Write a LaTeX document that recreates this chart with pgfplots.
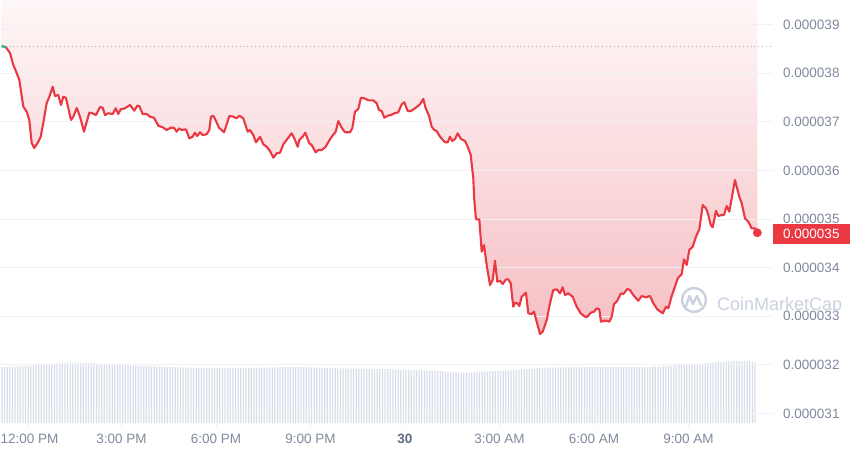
\documentclass[border=0pt]{standalone}
\usepackage{fontspec}
\setmainfont{Liberation Sans}
\usepackage{pgfplots}
\pgfplotsset{compat=1.18}
\usepackage{pgfplotstable}
\definecolor{cmcred}{HTML}{EA3943}
\definecolor{cmcgreen}{HTML}{16C784}
\definecolor{labelc}{HTML}{808A9D}
\definecolor{labd}{HTML}{5F6B80}
\definecolor{gridc}{HTML}{EFF1F4}
\definecolor{volc}{HTML}{D8DEE9}
\definecolor{filltop}{HTML}{FEF7F7}
\definecolor{fillbot}{HTML}{F6BFC4}
\definecolor{dotc}{HTML}{A7B1C2}
\definecolor{wmc}{HTML}{CBD2DF}
\newcommand\lblfont{\fontsize{13.5}{16}\selectfont}

\pgfplotstableread{
h p
-0.803 38.560
-0.667 38.533
-0.540 38.416
-0.435 38.169
-0.327 38.004
-0.244 37.860
-0.117 37.311
-0.010 37.208
0.073 37.037
0.149 36.564
0.232 36.461
0.359 36.590
0.435 36.693
0.517 36.975
0.625 37.387
0.708 37.510
0.816 37.722
0.889 37.531
0.994 37.551
1.079 37.346
1.152 37.516
1.238 37.490
1.397 37.037
1.470 37.105
1.578 37.284
1.683 37.105
1.810 36.796
1.978 37.187
2.054 37.181
2.190 37.140
2.317 37.304
2.403 37.290
2.476 37.140
2.581 37.175
2.721 37.160
2.816 37.278
2.898 37.160
2.975 37.257
3.111 37.278
3.270 37.346
3.406 37.228
3.502 37.331
3.565 37.325
3.673 37.160
3.800 37.160
3.905 37.105
4.032 37.084
4.168 36.920
4.308 36.887
4.435 36.831
4.562 36.878
4.667 36.878
4.752 36.796
4.835 36.866
4.911 36.831
5.048 36.845
5.152 36.660
5.260 36.693
5.333 36.775
5.406 36.708
5.492 36.784
5.578 36.728
5.705 36.743
5.787 36.831
5.841 37.105
5.914 37.125
6.000 37.016
6.095 36.878
6.181 36.831
6.254 36.784
6.340 36.948
6.422 37.119
6.549 37.105
6.657 37.072
6.740 37.125
6.867 37.072
7.006 36.796
7.079 36.831
7.184 36.728
7.270 36.578
7.397 36.693
7.502 36.537
7.610 36.487
7.714 36.399
7.819 36.261
7.927 36.352
8.032 36.364
8.137 36.537
8.263 36.646
8.403 36.763
8.486 36.660
8.594 36.487
8.644 36.625
8.752 36.693
8.835 36.775
8.962 36.557
9.038 36.522
9.165 36.372
9.248 36.419
9.356 36.419
9.483 36.487
9.587 36.605
9.673 36.693
9.800 36.796
9.883 37.016
9.990 36.878
10.095 36.784
10.254 36.784
10.327 36.866
10.413 37.208
10.517 37.263
10.603 37.496
10.708 37.483
10.835 37.442
10.994 37.442
11.102 37.381
11.175 37.243
11.260 37.222
11.343 37.084
11.451 37.125
11.556 37.140
11.660 37.175
11.787 37.195
11.895 37.360
11.978 37.401
12.086 37.222
12.190 37.222
12.317 37.278
12.476 37.360
12.581 37.469
12.657 37.278
12.762 37.125
12.848 36.899
12.930 36.831
13.006 36.810
13.111 36.693
13.270 36.578
13.356 36.578
13.429 36.693
13.502 36.605
13.587 36.646
13.673 36.763
13.778 36.646
13.905 36.605
13.990 36.487
14.086 36.317
14.168 35.837
14.200 35.390
14.254 34.993
14.359 34.993
14.435 34.326
14.508 34.464
14.594 34.053
14.698 33.641
14.784 33.744
14.857 34.141
14.930 33.709
15.016 33.730
15.102 33.662
15.206 33.758
15.279 33.758
15.356 33.676
15.438 33.195
15.502 33.277
15.565 33.265
15.629 33.209
15.705 33.400
15.841 33.483
15.914 33.059
16.022 33.044
16.095 33.092
16.181 32.886
16.286 32.633
16.371 32.680
16.498 32.921
16.603 33.265
16.708 33.538
16.816 33.553
16.921 33.470
17.006 33.594
17.079 33.435
17.184 33.470
17.324 33.400
17.451 33.195
17.578 33.059
17.714 32.989
17.787 32.989
17.895 33.071
18.000 33.092
18.086 33.162
18.168 33.141
18.222 32.886
18.327 32.906
18.403 32.906
18.486 32.886
18.562 32.989
18.635 33.250
18.740 33.318
18.857 33.470
18.930 33.456
19.057 33.559
19.143 33.538
19.248 33.435
19.406 33.318
19.514 33.415
19.651 33.388
19.778 33.415
19.883 33.265
20.010 33.141
20.181 33.059
20.286 33.195
20.359 33.162
20.467 33.415
20.571 33.606
20.657 33.779
20.784 33.867
20.857 34.170
20.943 34.053
21.025 34.361
21.133 34.429
21.238 34.635
21.343 34.787
21.451 35.288
21.556 35.220
21.629 35.082
21.705 34.876
21.768 34.829
21.873 35.170
21.946 35.061
22.054 35.082
22.127 35.082
22.213 35.267
22.295 35.150
22.476 35.802
22.613 35.458
22.689 35.322
22.794 35.014
22.898 34.944
23.006 34.808
23.111 34.808
23.184 34.717
}\price

\pgfplotstableread[header=false,row sep=\\]{
56.0\\56.1\\56.2\\56.3\\56.4\\56.5\\56.6\\56.7\\56.8\\56.9\\57.0\\57.2\\
57.4\\57.6\\57.8\\58.0\\58.2\\58.4\\58.6\\58.8\\59.0\\59.3\\59.6\\60.0\\
60.2\\60.3\\60.3\\60.4\\60.4\\60.3\\60.3\\60.2\\60.2\\60.3\\60.2\\60.0\\
58.8\\58.6\\58.5\\58.5\\58.4\\58.3\\58.2\\58.1\\58.0\\57.9\\57.8\\57.7\\
57.6\\57.5\\57.4\\57.3\\57.2\\57.1\\57.0\\56.9\\56.8\\56.7\\56.6\\56.5\\
56.4\\56.3\\56.2\\56.1\\56.0\\55.9\\55.8\\55.7\\55.6\\55.5\\55.4\\55.3\\
55.2\\55.1\\55.0\\55.0\\55.0\\55.0\\54.9\\54.9\\55.0\\55.0\\55.0\\55.0\\
55.0\\55.0\\54.9\\54.9\\55.0\\55.0\\55.0\\55.1\\55.1\\55.0\\55.0\\55.0\\
55.0\\55.0\\55.1\\55.1\\55.1\\55.2\\55.3\\55.4\\55.5\\55.6\\55.8\\56.0\\
56.0\\56.1\\56.1\\56.0\\56.0\\56.1\\56.0\\55.9\\55.8\\55.6\\55.4\\55.3\\
55.2\\55.1\\55.0\\55.0\\54.9\\54.9\\54.8\\54.8\\54.7\\54.7\\54.6\\54.6\\
54.5\\54.5\\54.4\\54.4\\54.3\\54.3\\54.2\\54.2\\54.1\\54.1\\54.0\\54.0\\
54.0\\53.9\\53.9\\53.8\\53.8\\53.7\\53.6\\53.5\\53.4\\53.3\\53.2\\53.1\\
53.0\\52.9\\52.8\\52.7\\52.6\\52.5\\52.4\\52.3\\52.2\\52.1\\52.0\\51.9\\
51.8\\51.6\\51.4\\51.2\\51.0\\50.8\\50.6\\50.5\\50.4\\50.3\\50.4\\50.5\\
50.6\\50.8\\51.0\\51.2\\51.4\\51.6\\51.8\\52.0\\52.1\\52.2\\52.3\\52.4\\
52.5\\52.6\\52.8\\53.0\\53.2\\53.4\\53.6\\53.8\\54.0\\54.2\\54.4\\54.6\\
54.8\\55.0\\55.2\\55.3\\55.4\\55.5\\55.5\\55.5\\55.6\\55.6\\55.6\\55.6\\
55.6\\55.6\\55.7\\55.7\\55.7\\55.7\\55.8\\55.8\\55.8\\55.8\\55.9\\55.9\\
56.0\\56.0\\56.0\\56.0\\56.0\\56.0\\56.0\\56.0\\56.0\\56.0\\56.0\\56.0\\
56.0\\56.0\\56.0\\56.1\\56.1\\56.1\\56.2\\56.2\\56.3\\56.3\\56.4\\56.5\\
56.6\\56.8\\57.0\\57.2\\57.4\\57.6\\57.8\\58.0\\58.2\\58.4\\58.6\\58.8\\
59.0\\59.2\\59.4\\59.6\\59.8\\60.0\\60.2\\60.4\\60.6\\60.8\\61.0\\61.2\\
61.4\\61.6\\61.7\\61.8\\61.8\\61.9\\61.9\\62.0\\61.9\\61.5\\61.0\\60.5\\
}\vol

\begin{document}
\begin{tikzpicture}
\useasboundingbox (0pt,0pt) rectangle (850pt,453pt);
\fill[white] (0pt,0pt) rectangle (850pt,453pt);
% volume bars
\begin{axis}[at={(0pt,30pt)}, anchor=south west, scale only axis,
  width=773pt, height=423pt,
  xmin=-0.762, xmax=293.86, ymin=0, ymax=423, hide axis]
\addplot[ybar, bar width=1.25pt, bar shift=0pt, fill=volc, draw=none]
  table[x expr=\coordindex, y index=0]{\vol};
\end{axis}
% price
\begin{axis}[at={(0pt,30pt)}, anchor=south west, scale only axis,
  width=773pt, height=423pt,
  xmin=-0.857, xmax=23.683, ymin=30.802, ymax=39.506,
  axis line style={draw=none},
  ytick={31,32,33,34,35,36,37,38,39},
  yticklabels={0.000031,0.000032,0.000033,0.000034,0.000035,0.000036,0.000037,0.000038,0.000039},
  yticklabel pos=right,
  ytick style={draw=none},
  yticklabel style={anchor=west, inner sep=0pt, xshift=6pt, font=\lblfont, text=labelc},
  xtick={0,3,6,9,12,15,18,21},
  xticklabels={\hspace*{5pt}12:00 PM,3:00 PM,6:00 PM,9:00 PM,{\bfseries\color{labd}30},3:00 AM,6:00 AM,9:00 AM},
  xtick pos=bottom, tick align=outside, major tick length=4pt,
  xtick style={draw=gridc, line width=0.8pt},
  xticklabel style={anchor=north, inner sep=0pt, yshift=-7pt, font=\lblfont, text=labelc},
]
\addplot[draw=none, top color=filltop, bottom color=fillbot, forget plot]
  table[x=h, y=p]{\price} -- (axis cs:23.184,39.506) -- (axis cs:-0.803,39.506) -- cycle;
\pgfplotsinvokeforeach{31,32,33,34,35,36,37,38,39}{
  \addplot[gridc, line width=0.7pt, forget plot] coordinates {(-0.857,#1) (23.683,#1)};
}
\draw[gridc, line width=0.8pt] (rel axis cs:1,0) -- (rel axis cs:1,1);
\addplot[dotc, line width=0.9pt, dash pattern=on 0.9pt off 3pt, forget plot]
  coordinates {(-0.803,38.56) (23.683,38.56)};
\addplot[cmcred, line width=2.1pt, line join=round] table[x=h, y=p]{\price};
\addplot[cmcgreen, line width=2.1pt] coordinates {(-0.803,38.560) (-0.667,38.533)};
\addplot[only marks, mark=*, mark size=4.2pt, color=cmcred] coordinates {(23.184,34.717)};
\end{axis}
% last price tag
\fill[cmcred] (773pt,209pt) rectangle (850pt,229pt);
\node[anchor=west, inner sep=0pt, text=white, font=\lblfont] at (783pt,219pt) {0.000035};
% watermark
\draw[wmc, line width=2.4pt] (694pt,153pt) circle (12pt);
\draw[wmc, line width=2.4pt, line join=round, line cap=round]
  (686pt,147pt) -- (689.5pt,157pt) -- (693pt,149pt) -- (697pt,157pt) -- (701pt,148pt);
\node[anchor=base west, inner sep=0pt, text=wmc, font=\fontsize{18}{18}\selectfont] at (717pt,142.5pt) {CoinMarketCap};
\end{tikzpicture}
\end{document}
